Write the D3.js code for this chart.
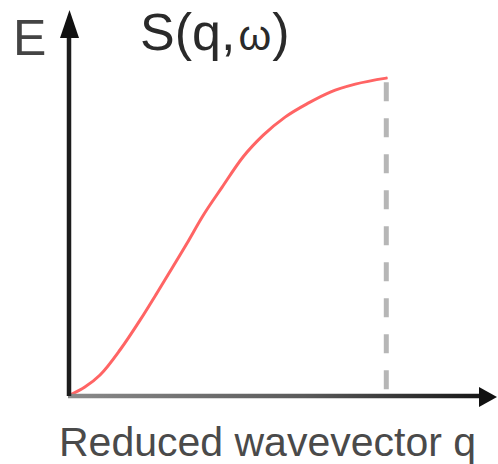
<!DOCTYPE html>
<html lang="en">
<head>
    <meta charset="UTF-8">
    <title>S(q,ω)</title>
    <style>
        body { margin: 0; background: #fff; }
        text { font-family: "Liberation Sans", Arial, sans-serif; }
    </style>
</head>
<body>
    <div class="canvas"></div>

    <script src="https://cdnjs.cloudflare.com/ajax/libs/d3/7.8.5/d3.min.js"></script>

    <script>
        // dispersion curve (reduced units, zone boundary = 1)
        const qVals = [0, 0.047, 0.095, 0.158, 0.222, 0.275, 0.323, 0.370, 0.418, 0.481, 0.547, 0.611, 0.680, 0.753, 0.823, 0.902, 1];
        const eVals = [0, 0.025, 0.063, 0.142, 0.237, 0.322, 0.401, 0.479, 0.562, 0.656, 0.751, 0.820, 0.877, 0.921, 0.956, 0.981, 1];
        const qBoundary = 1;
        const xLabel = "Reduced wavevector q";
        const yLabel = "E";
        const title = ["S(q,", "ω", ")"];

        const points = qVals.map((q, i) => ({ q: q, e: eVals[i] }));

        const width = 498, height = 464;

        const svg = d3.select(".canvas").append("svg")
            .attr("width", width)
            .attr("height", height);

        const x = d3.scaleLinear().domain([0, 1.35]).range([70, 497]);
        const y = d3.scaleLinear().domain([0, 1.215]).range([395, 10]);

        const defs = svg.append("defs");
        const grad = defs.append("linearGradient")
            .attr("id", "xaxis-grad")
            .attr("gradientUnits", "userSpaceOnUse")
            .attr("x1", x(0)).attr("x2", x(1.35))
            .attr("y1", 0).attr("y2", 0);
        grad.append("stop").attr("offset", "0%").attr("stop-color", "#8a8a8a");
        grad.append("stop").attr("offset", "55%").attr("stop-color", "#5a5a5a");
        grad.append("stop").attr("offset", "100%").attr("stop-color", "#111");

        // dashed zone-boundary line
        svg.append("line")
            .attr("x1", x(qBoundary)).attr("x2", x(qBoundary))
            .attr("y1", y(1) + 4).attr("y2", y(0) - 5)
            .attr("stroke", "#b6b6b6")
            .attr("stroke-width", 5)
            .attr("stroke-dasharray", "19,17");

        // dispersion curve
        const line = d3.line()
            .x(d => x(d.q))
            .y(d => y(d.e))
            .curve(d3.curveMonotoneX);

        svg.append("path")
            .datum(points)
            .attr("d", line)
            .attr("fill", "none")
            .attr("stroke", "#ff6464")
            .attr("stroke-width", 3)
            .attr("stroke-linecap", "round");

        // axes with arrowheads
        svg.append("line")
            .attr("x1", x(0) - 2).attr("x2", x(1.35) - 14)
            .attr("y1", y(0) + 1).attr("y2", y(0) + 1)
            .attr("stroke", "url(#xaxis-grad)")
            .attr("stroke-width", 4.5);

        svg.append("line")
            .attr("x1", x(0) - 1).attr("x2", x(0) - 1)
            .attr("y1", y(0) + 1).attr("y2", y(1.215) + 14)
            .attr("stroke", "#1c1c1c")
            .attr("stroke-width", 4.5);

        const xTip = [x(1.35), y(0) + 2];
        svg.append("path")
            .attr("d", `M${xTip[0]},${xTip[1]}L${xTip[0] - 18},${xTip[1] - 10}L${xTip[0] - 18},${xTip[1] + 10}Z`)
            .attr("fill", "#111");

        const yTip = [x(0) - 0.5, y(1.215)];
        svg.append("path")
            .attr("d", `M${yTip[0]},${yTip[1]}L${yTip[0] - 9.5},${yTip[1] + 28}L${yTip[0] + 9.5},${yTip[1] + 28}Z`)
            .attr("fill", "#111");

        // labels
        svg.append("text")
            .attr("x", 13).attr("y", 55)
            .attr("font-size", 50)
            .attr("fill", "#444")
            .text(yLabel);

        const t = svg.append("text")
            .attr("x", 140).attr("y", 50)
            .attr("font-size", 52)
            .attr("fill", "#2a2a2a");
        t.append("tspan").text(title[0]);
        t.append("tspan").attr("font-size", 42).attr("dx", 3).text(title[1]);
        t.append("tspan").attr("dx", 1).text(title[2]);

        svg.append("text")
            .attr("x", 59).attr("y", 456)
            .attr("font-size", 41)
            .attr("fill", "#4a4a4a")
            .text(xLabel);
    </script>
</body>
</html>
